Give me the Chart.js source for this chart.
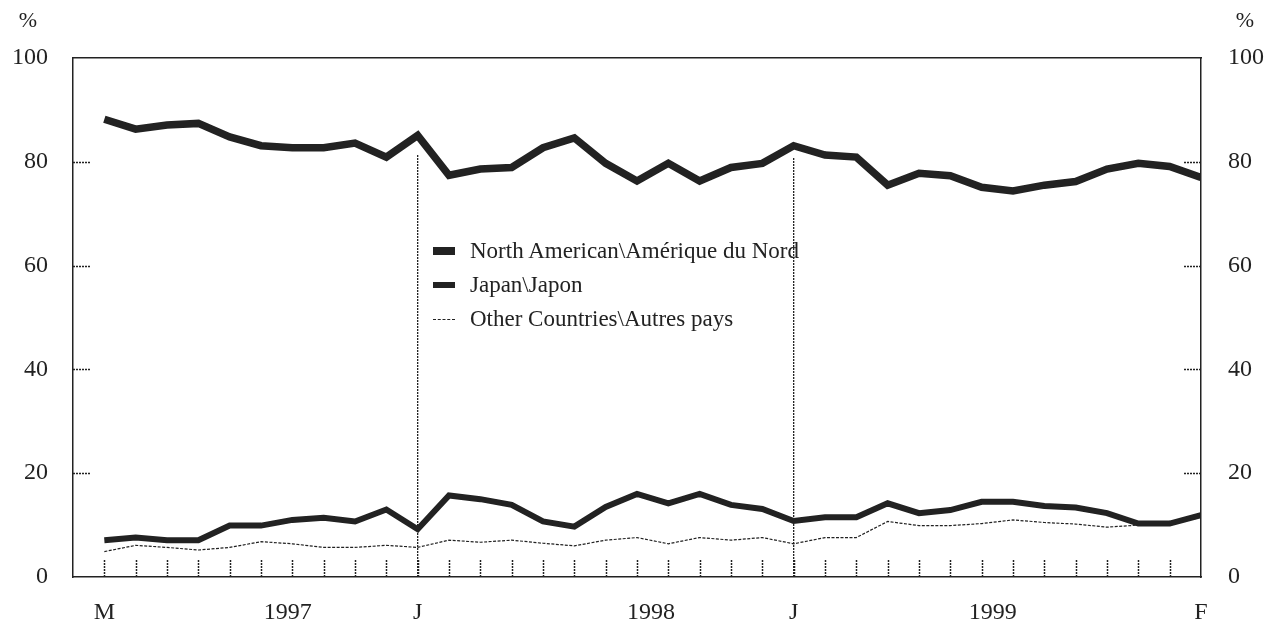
<!DOCTYPE html>
<html>
<head>
<meta charset="utf-8">
<script src="https://cdn.jsdelivr.net/npm/chart.js@4.4.0/dist/chart.umd.min.js"></script>
<style>
  body { margin: 0; background: #fff; }
  #wrap { position: relative; width: 1270px; height: 626px; }
  #legend {
    position: absolute; left: 433px; top: 234px;
    font-family: "Liberation Serif", serif; font-size: 23px; color: #222;
  }
  #legend div { height: 34px; display: flex; align-items: center; }
  #legend span.sw { display: inline-block; width: 22px; margin-right: 15px; background: #222; }
  #legend span.dash { display: inline-block; width: 22px; margin-right: 15px; border-top: 1px dashed #222; }
</style>
</head>
<body>
<div id="wrap">
  <canvas id="chart" width="1270" height="626"></canvas>
  <div id="legend">
    <div><span class="sw" style="height:8px"></span>North American\Amérique du Nord</div>
    <div><span class="sw" style="height:6px"></span>Japan\Japon</div>
    <div><span class="dash"></span>Other Countries\Autres pays</div>
  </div>
</div>
<script>
// monthly shares, March 1996 .. February 1999 (36 months)
const northAmerica = [88.2, 86.3, 87.1, 87.4, 84.8, 83.1, 82.7, 82.7, 83.6, 80.9, 85.1, 77.4,
  78.6, 78.9, 82.7, 84.6, 79.7, 76.3, 79.7, 76.3, 78.9, 79.7, 83.1, 81.3,
  80.9, 75.5, 77.8, 77.3, 75.1, 74.4, 75.5, 76.2, 78.6, 79.7, 79.1, 77.0];
const japan = [7.1, 7.6, 7.1, 7.1, 9.9, 9.9, 11.0, 11.4, 10.7, 13.0, 9.2, 15.7,
  15.0, 13.9, 10.7, 9.7, 13.5, 16.0, 14.2, 16.0, 13.9, 13.1, 10.8, 11.5,
  11.5, 14.2, 12.3, 12.9, 14.5, 14.5, 13.7, 13.4, 12.3, 10.3, 10.3, 11.9];
const others = [4.9, 6.1, 5.7, 5.2, 5.7, 6.8, 6.4, 5.7, 5.7, 6.1, 5.7, 7.1,
  6.7, 7.1, 6.5, 6.0, 7.1, 7.6, 6.4, 7.6, 7.1, 7.6, 6.4, 7.6,
  7.6, 10.7, 9.9, 9.9, 10.3, 11.0, 10.5, 10.2, 9.6, 10.0, 10.2, 11.5];

// bottom axis labels and where they sit (month index)
const xLabels = ["M", "1997", "J", "1998", "J", "1999", "F"];
const xLabelPos = [0, 5.85, 10, 17.45, 22, 28.35, 35];

// January dividers
const dividerPos = [10, 22];
const dividerTop = [81.3, 80.9];

const yTicks = [0, 20, 40, 60, 80, 100];

const ink = "#222";
const serif = "Liberation Serif";

function toPoints(arr) {
  return arr.map((v, i) => ({ x: i, y: v }));
}

const datasets = [
  { label: "North American\\Amérique du Nord", data: toPoints(northAmerica), borderColor: ink, borderWidth: 7.5 },
  { label: "Japan\\Japon", data: toPoints(japan), borderColor: ink, borderWidth: 6 },
  { label: "Other Countries\\Autres pays", data: toPoints(others), borderColor: ink, borderWidth: 1.2, borderDash: [3, 1.5] }
];
dividerPos.forEach((p, i) => {
  datasets.push({
    label: "divider" + i,
    data: [{ x: p, y: 0 }, { x: p, y: dividerTop[i] }],
    borderColor: ink, borderWidth: 1.3, borderDash: [2, 1]
  });
});

// small tick marks drawn on the inside of the frame, plus the "%" labels
const innerTicks = {
  id: "innerTicks",
  afterDatasetsDraw(chart) {
    const { ctx, chartArea: a, scales } = chart;
    ctx.save();
    ctx.strokeStyle = ink;
    ctx.lineWidth = 1.5;
    ctx.setLineDash([2, 1]);
    ctx.beginPath();
    for (let i = 0; i < northAmerica.length - 1; i++) {
      const x = Math.round(scales.x.getPixelForValue(i)) + 0.5;
      ctx.moveTo(x, a.bottom);
      ctx.lineTo(x, a.bottom - 17);
    }
    yTicks.slice(1, -1).forEach(v => {
      const y = Math.round(scales.y.getPixelForValue(v)) + 0.5;
      ctx.moveTo(a.left, y);
      ctx.lineTo(a.left + 18, y);
      ctx.moveTo(a.right, y);
      ctx.lineTo(a.right - 18, y);
    });
    ctx.stroke();
    ctx.setLineDash([]);
    ctx.fillStyle = ink;
    ctx.font = "22px " + serif;
    ctx.textAlign = "center";
    ctx.textBaseline = "middle";
    ctx.fillText("%", a.left - 45, a.top - 37);
    ctx.fillText("%", a.right + 44, a.top - 37);
    ctx.restore();
  }
};

const frame = { display: true, color: ink, width: 1.5, dash: [2, 1] };

new Chart(document.getElementById("chart"), {
  type: "line",
  data: { datasets },
  options: {
    responsive: false,
    animation: false,
    layout: { padding: 0 },
    elements: { point: { radius: 0 }, line: { tension: 0 } },
    plugins: { legend: { display: false }, tooltip: { enabled: false } },
    scales: {
      x: {
        type: "linear", min: -1, max: 35,
        grid: { display: false, drawTicks: false },
        border: { display: true, color: ink, width: 1.5 },
        afterBuildTicks: s => { s.ticks = xLabelPos.map(v => ({ value: v })); },
        afterFit: s => { s.height = 49; },
        ticks: {
          autoSkip: false, maxRotation: 0, padding: 21, color: ink,
          font: { family: serif, size: 24 },
          callback: (v, i) => xLabels[i]
        }
      },
      x2: {
        type: "linear", position: "top", min: -1, max: 35,
        grid: { display: false, drawTicks: false },
        border: frame,
        ticks: { display: false },
        afterFit: s => { s.height = 58; }
      },
      y: {
        position: "left", min: 0, max: 100,
        grid: { display: false, drawTicks: false },
        border: frame,
        afterBuildTicks: s => { s.ticks = yTicks.map(v => ({ value: v })); },
        afterFit: s => { s.width = 73; },
        ticks: { padding: 25, color: ink, font: { family: serif, size: 24 } }
      },
      y2: {
        position: "right", min: 0, max: 100,
        grid: { display: false, drawTicks: false },
        border: frame,
        afterBuildTicks: s => { s.ticks = yTicks.map(v => ({ value: v })); },
        afterFit: s => { s.width = 69; },
        ticks: { padding: 27, color: ink, font: { family: serif, size: 24 } }
      }
    }
  },
  plugins: [innerTicks]
});
</script>
</body>
</html>
